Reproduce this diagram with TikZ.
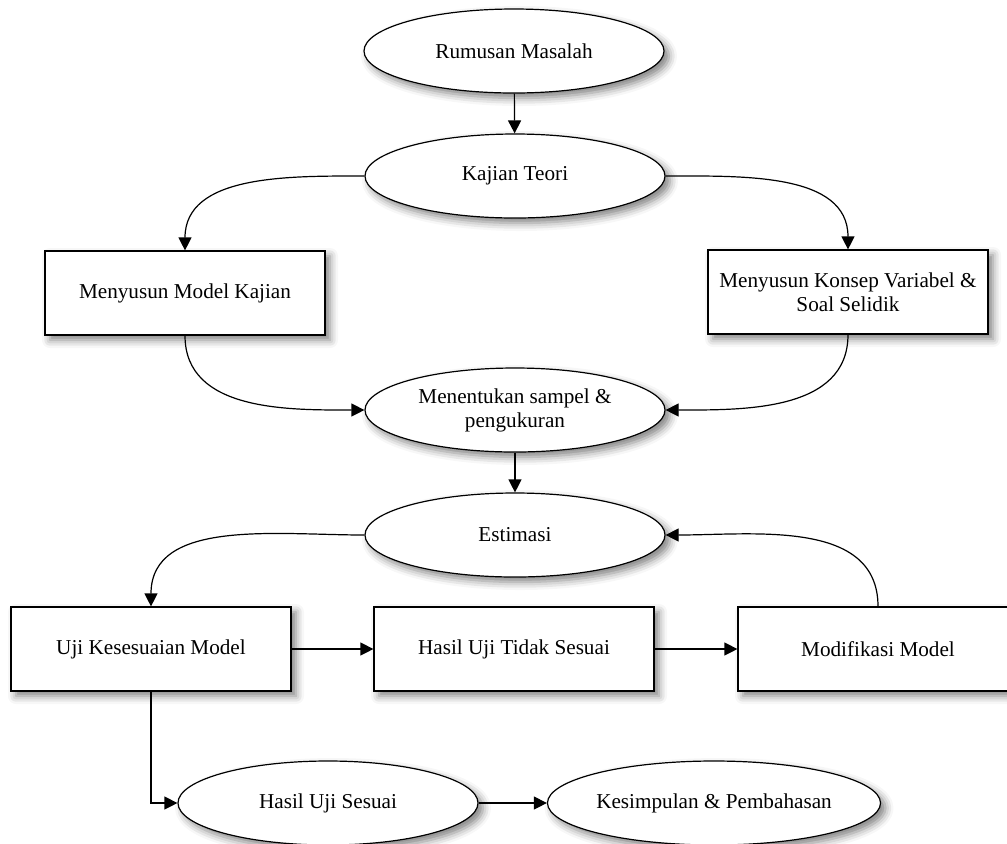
\documentclass[tikz,border=0pt]{standalone}
\usepackage{fontspec}
\setmainfont{Liberation Serif}
\usetikzlibrary{shapes.geometric,arrows.meta,shadows.blur}

\begin{document}
\begin{tikzpicture}[x=0.5pt, y=-0.5pt,
    font=\fontsize{10.6}{12}\selectfont,
    soft/.style={blur shadow={shadow xshift=2.5pt, shadow yshift=-2.5pt, shadow blur radius=4pt, shadow opacity=50}},
    oval/.style={ellipse, draw, fill=white, line width=0.6pt, inner sep=0pt, minimum width=150pt, minimum height=42pt, align=center, soft},
    box/.style={rectangle, draw, fill=white, line width=0.6pt, inner sep=0pt, minimum width=140pt, minimum height=42pt, align=center, soft},
    link/.style={line width=0.6pt, -{Triangle[length=6.5pt,width=6.5pt]}}]
    \useasboundingbox (0,0) rectangle (1007,843);
    \clip (0,0) rectangle (1007,843);

    % Top
    \node[oval] (rumusan) at (514,51) {Rumusan Masalah};
    \node[oval] (kajian) at (515,176) {Kajian Teori};

    % Two branches
    \node[box] (model) at (185,293) {Menyusun Model Kajian};
    \node[box] (konsep) at (848,292) {Menyusun Konsep Variabel \&\\Soal Selidik};

    % Middle
    \node[oval] (sampel) at (515,410) {Menentukan sampel \&\\pengukuran};
    \node[oval] (estimasi) at (515,535) {Estimasi};

    % Testing row
    \node[box] (uji) at (151,649) {Uji Kesesuaian Model};
    \node[box] (tidak) at (514,649) {Hasil Uji Tidak Sesuai};
    \node[box] (modif) at (878,649) {Modifikasi Model};

    % Bottom
    \node[oval] (sesuai) at (328,803) {Hasil Uji Sesuai};
    \node[oval] (simpulan) at (714,803) {Kesimpulan \& Pembahasan};

    % Connectors
    \draw[link] (rumusan) -- (kajian);
    \draw[link] (kajian.west) to[out=180, in=90] (model.north);
    \draw[link] (kajian.east) to[out=0, in=90] (konsep.north);
    \draw[link] (model.south) to[out=-90, in=180] (sampel.west);
    \draw[link] (konsep.south) to[out=-90, in=0] (sampel.east);
    \draw[link] (sampel) -- (estimasi);
    \draw[link] (estimasi.west) to[out=180, in=90] (uji.north);
    \draw[link] (uji) -- (tidak);
    \draw[link] (tidak) -- (modif);
    \draw[link] (modif.north) to[out=90, in=0] (estimasi.east);
    \draw[link] (uji.south) |- (sesuai.west);
    \draw[link] (sesuai) -- (simpulan);
\end{tikzpicture}
\end{document}
